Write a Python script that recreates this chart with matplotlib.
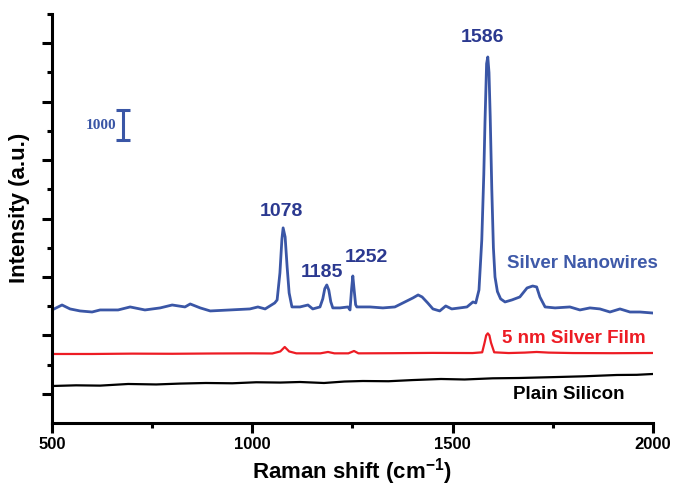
import numpy as np
import matplotlib
matplotlib.use("Agg")
import matplotlib.pyplot as plt
from matplotlib.ticker import FixedLocator

plt.rcParams["font.family"] = ["Liberation Sans", "DejaVu Sans"]
plt.rcParams["font.weight"] = "bold"
plt.rcParams["mathtext.fontset"] = "custom"
plt.rcParams["mathtext.rm"] = "Liberation Sans:bold"
plt.rcParams["mathtext.bf"] = "Liberation Sans:bold"

# Silver nanowires spectrum (hand-read points)
nw_x = [500, 525, 545, 570, 600, 620, 665, 695, 732, 770, 800, 832, 845, 870,
        895, 944, 994, 1014, 1032, 1044, 1056, 1062, 1069, 1074, 1077, 1082,
        1087, 1092, 1099, 1104, 1119, 1139, 1151, 1169, 1176, 1181, 1186, 1191,
        1196, 1201, 1219, 1239, 1244, 1248, 1251, 1254, 1258, 1261, 1294, 1326,
        1356, 1381, 1401, 1414, 1424, 1438, 1451, 1468, 1483, 1498, 1518, 1536,
        1551, 1558, 1566, 1573, 1578, 1581, 1585, 1588, 1591, 1594, 1598, 1602,
        1606, 1612, 1620, 1631, 1648, 1668, 1686, 1700, 1710, 1718, 1731, 1756,
        1793, 1818, 1843, 1868, 1893, 1918, 1943, 1968, 1998]
nw_y = [3870, 4040, 3905, 3836, 3800, 3870, 3870, 3973, 3870, 3940, 4040, 3973,
        4075, 3940, 3836, 3870, 3905, 3973, 3905, 4007, 4110, 4212, 5137, 6302,
        6680, 6370, 5343, 4452, 3973, 3973, 3973, 4040, 3905, 3973, 4250, 4600,
        4726, 4550, 4150, 3940, 3940, 3973, 3870, 4600, 5034, 4600, 4050, 3973,
        3973, 3940, 3973, 4144, 4281, 4384, 4315, 4110, 3905, 3836, 4007, 3905,
        3940, 3973, 4144, 4110, 4555, 6268, 8500, 10300, 12300, 12530, 12000,
        10500, 8000, 6000, 5000, 4500, 4250, 4144, 4212, 4315, 4623, 4690, 4658,
        4315, 3973, 3940, 3973, 3870, 3940, 3905, 3800, 3905, 3800, 3800, 3767]

# 5 nm silver film spectrum
film_x = [500, 600, 700, 800, 900, 1000, 1050, 1070, 1081, 1092, 1110, 1170,
          1189, 1205, 1240, 1254, 1265, 1350, 1450, 1550, 1574, 1580, 1584,
          1588, 1592, 1596, 1604, 1640, 1680, 1710, 1740, 1800, 1900, 2000]
film_y = [2363, 2363, 2375, 2370, 2380, 2385, 2380, 2450, 2603, 2450, 2385, 2385,
          2432, 2385, 2385, 2466, 2385, 2390, 2400, 2395, 2420, 2750, 3000,
          3070, 3000, 2750, 2420, 2395, 2410, 2432, 2410, 2395, 2390, 2397]

# plain silicon spectrum
si_x = [500, 560, 620, 690, 760, 820, 884, 950, 1010, 1070, 1119, 1179, 1230,
        1276, 1340, 1400, 1471, 1530, 1600, 1666, 1720, 1763, 1830, 1910, 1960,
        2000]
si_y = [1267, 1290, 1280, 1336, 1320, 1350, 1370, 1360, 1395, 1385, 1404, 1370,
        1420, 1438, 1430, 1470, 1507, 1490, 1530, 1541, 1560, 1575, 1600, 1644,
        1650, 1678]

peak_pos = [1078, 1185, 1252, 1586]
peak_lbl_x = [1074, 1174, 1286, 1576]
peak_lbl_y = [7226, 5137, 5650, 13185]

blue = "#3a56a6"
navy = "#2b3990"
red = "#ed1c24"

fig = plt.figure(figsize=(6.73, 4.90), dpi=100)
ax = fig.add_axes([0.0773, 0.1367, 0.8927, 0.8347])

ax.plot(nw_x, nw_y, color=blue, lw=2.0, solid_joinstyle="round")
ax.plot(film_x, film_y, color=red, lw=1.6)
ax.plot(si_x, si_y, color="black", lw=1.6)

for p, lx, ly in zip(peak_pos, peak_lbl_x, peak_lbl_y):
    ax.text(lx, ly, str(p), color=navy, fontsize=14, fontweight="bold",
            ha="center", va="center")

ax.text(1636, 5445, "Silver Nanowires", color="#3f5aa9", fontsize=13.5,
        fontweight="bold", ha="left", va="center")
ax.text(1623, 2877, "5 nm Silver Film", color=red, fontsize=13.5,
        fontweight="bold", ha="left", va="center")
ax.text(1651, 993, "Plain Silicon", color="black", fontsize=13.5,
        fontweight="bold", ha="left", va="center")

# scale bar
ax.errorbar([677], [10200], yerr=[[500], [500]], color=blue, lw=2.2,
            capsize=5, capthick=2.2, fmt="none")
ax.text(622, 10200, "1000", color=blue, fontsize=11, fontweight="bold",
        family=["Liberation Serif", "DejaVu Serif"], ha="center", va="center")

ax.set_xlim(500, 2000)
ax.set_ylim(0, 14000)
ax.set_xticks([500, 1000, 1500, 2000])
ax.xaxis.set_minor_locator(FixedLocator([750, 1250, 1750]))
ax.set_yticks(np.arange(1000, 14000, 2000))
ax.yaxis.set_minor_locator(FixedLocator(np.arange(2000, 14001, 2000)))
ax.set_yticklabels([])

for side in ["top", "right"]:
    ax.spines[side].set_visible(False)
for side in ["left", "bottom"]:
    ax.spines[side].set_linewidth(2.2)

ax.tick_params(axis="both", which="major", direction="out", width=2.2,
               length=7, labelsize=12, pad=3)
ax.tick_params(axis="both", which="minor", direction="out", width=2.2,
               length=3.5)
for lbl in ax.get_xticklabels():
    lbl.set_fontweight("bold")

ax.set_xlabel("Raman shift (cm$^{\\mathrm{-1}}$)", fontsize=16,
              fontweight="bold", labelpad=3)
ax.set_ylabel("Intensity (a.u.)", fontsize=16, fontweight="bold")
ax.yaxis.set_label_coords(-0.036, 0.525)

fig.savefig("out.png", dpi=100)
